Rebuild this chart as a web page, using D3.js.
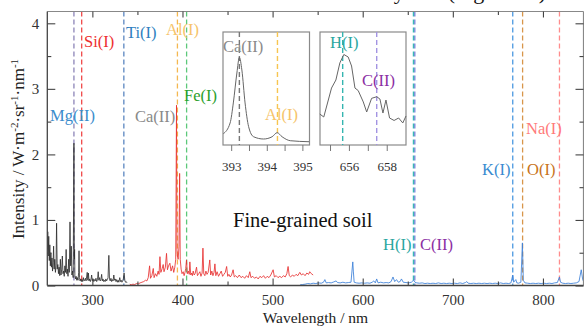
<!DOCTYPE html>
<html><head><meta charset="utf-8">
<script src="https://cdn.jsdelivr.net/npm/d3@7"></script>
<style>
body{margin:0;background:#fff}
svg{display:block}
</style>
</head><body>
<svg id="c" width="584" height="327" font-family="'Liberation Serif', 'DejaVu Serif', serif"></svg>
<script>
// ---------------- DATA ----------------
const xMajorTicks = [300, 400, 500, 600, 700, 800];
const xMinorTicks = [350, 450, 550, 650, 750];
const yMajorTicks = [0, 1, 2, 3, 4];
const yMinorTicks = [0.5, 1.5, 2.5, 3.5];

// spectrometer 1 (black), 250-340 nm
const blackSpectrum = [
[250.0,0.55],[250.5,0.82],[251.0,0.45],[251.6,0.75],[252.2,0.38],[252.8,0.62],[253.4,0.30],[254.0,0.50],
[254.6,0.28],[255.2,0.42],[255.8,0.22],[256.5,0.35],[257.0,0.60],[257.6,0.25],[258.3,0.40],[259.0,0.20],
[259.7,0.30],[260.3,0.95],[261.0,0.25],[261.7,0.32],[262.4,0.18],[263.1,0.28],[263.8,0.15],[264.5,0.40],
[265.2,0.16],[266.0,0.25],[266.7,0.45],[267.4,0.18],[268.1,0.22],[268.8,0.14],[269.5,0.30],[270.2,0.20],
[270.9,0.55],[271.6,0.18],[272.3,0.25],[273.0,0.14],[273.7,0.40],[274.4,0.20],[275.2,0.97],[275.9,0.30],
[276.6,0.60],[277.3,0.16],[278.0,0.22],[278.7,0.12],[279.55,2.17],[280.0,0.40],[280.3,0.55],[280.6,0.15],
[281.3,0.10],[282.0,0.14],[282.7,0.08],[283.4,0.12],[284.1,0.08],[284.8,0.20],[285.2,0.53],[285.7,0.12],
[286.4,0.07],[287.1,0.10],[287.8,0.06],[288.5,0.09],[289.2,0.06],[290.0,0.12],[290.7,0.07],[291.5,0.08],
[292.3,0.11],[293.0,0.07],[294.3,0.20],[295.0,0.08],[295.6,0.19],[296.3,0.07],[297.1,0.10],[297.8,0.06],
[298.5,0.09],[299.2,0.16],[300.0,0.07],[300.8,0.10],[301.6,0.06],[302.4,0.09],[303.2,0.07],[304.0,0.11],
[304.8,0.06],[305.7,0.09],[306.5,0.21],[307.2,0.08],[308.0,0.12],[308.7,0.07],[309.5,0.09],[310.3,0.17],
[311.0,0.07],[311.8,0.10],[312.6,0.06],[313.4,0.08],[314.2,0.06],[315.0,0.10],[315.8,0.07],[316.6,0.09],
[317.4,0.12],[318.3,0.46],[319.0,0.10],[319.8,0.07],[320.6,0.11],[321.4,0.06],[322.2,0.09],[323.0,0.07],
[323.8,0.16],[324.6,0.08],[325.4,0.10],[326.2,0.06],[327.0,0.09],[327.8,0.05],[328.6,0.08],[329.4,0.05],
[330.4,0.12],[331.2,0.06],[332.0,0.08],[332.8,0.05],[333.6,0.07],[334.4,0.10],[335.2,0.19],[336.0,0.08],
[336.8,0.05],[337.6,0.06],[338.4,0.04]
];

// spectrometer 2 (red), 341-545 nm
const redSpectrum = [
[341.5,0.02],[343,0.01],[345,0.02],[347,0.015],[349,0.03],[351,0.025],[353,0.04],[355,0.05],[357,0.06],
[359,0.08],[360.5,0.07],[362,0.12],[363.5,0.30],[364.5,0.11],[366,0.15],[367.6,0.26],[368.5,0.12],[370,0.18],
[371.5,0.14],[373,0.22],[374,0.17],[375,0.44],[376,0.20],[377.5,0.26],[378.6,0.32],[379.5,0.21],[381,0.28],
[382.3,0.49],[383.3,0.24],[384.5,0.30],[386,0.34],[387.3,0.22],[389,0.30],[390.3,0.20],[391.5,0.28],
[392.5,0.40],[393.37,2.75],[393.9,0.55],[394.4,0.45],[395.2,0.40],[396.15,0.60],[396.85,1.71],[397.5,0.40],
[398.5,0.25],[399.5,0.18],[400.8,0.21],[401.8,0.15],[402.8,0.20],[403.6,0.26],[404.5,0.39],[405.4,0.18],
[406.5,0.22],[407.5,0.17],[408.2,0.36],[409.2,0.16],[410.2,0.19],[411.0,0.15],[411.9,0.22],[413.0,0.16],
[414.0,0.18],[415.6,0.28],[416.6,0.15],[418.0,0.18],[419.3,0.21],[420.5,0.14],[421.8,0.19],[422.7,0.57],
[423.6,0.18],[424.8,0.15],[426.0,0.22],[427.2,0.17],[428.5,0.20],[430.3,0.39],[431.3,0.16],[432.6,0.22],
[433.8,0.15],[435.0,0.20],[436.0,0.33],[437.0,0.15],[438.4,0.21],[440.0,0.14],[441.5,0.18],[443.0,0.22],
[444.5,0.14],[446.0,0.17],[447.5,0.20],[449.0,0.29],[450.2,0.14],[451.5,0.17],[453.0,0.13],[454.5,0.16],
[456.2,0.24],[457.5,0.13],[459.0,0.15],[461.0,0.12],[463.0,0.16],[465.0,0.12],[467.0,0.14],[469.0,0.11],
[471.0,0.15],[473.0,0.12],[474.7,0.21],[476.0,0.12],[478.0,0.14],[480.0,0.11],[482.0,0.13],[484.0,0.10],
[486.0,0.14],[488.0,0.12],[490.0,0.15],[492.0,0.11],[494.0,0.14],[496.0,0.12],[498.0,0.16],[500.6,0.24],
[502.0,0.13],[504.0,0.15],[506.0,0.12],[508.0,0.14],[510.0,0.12],[512.0,0.15],[514.0,0.13],[515.8,0.18],
[517.2,0.29],[518.5,0.15],[520.0,0.13],[522.0,0.16],[524.0,0.14],[526.0,0.17],[528.0,0.15],[530.2,0.20],
[532.0,0.16],[534.0,0.18],[536.0,0.15],[538.0,0.19],[540.0,0.17],[541.2,0.21],[543.0,0.18],[545.0,0.16]
];

// spectrometer 3 (blue), 530-845 nm
const blueSpectrum = [
[530.5,0.01],[533,0.015],[536,0.02],[539,0.03],[542,0.025],[545,0.035],[548,0.03],[551,0.04],[554,0.035],
[556.5,0.05],[558,0.09],[559.5,0.04],[562,0.045],[565,0.04],[568,0.055],[570.5,0.07],[572,0.045],[575,0.04],
[578,0.05],[581,0.04],[584,0.045],[587,0.05],[588.99,0.36],[589.6,0.22],[590.5,0.05],[593,0.04],[596,0.035],
[599,0.04],[602,0.035],[605,0.04],[608,0.035],[610.5,0.05],[612.3,0.07],[614,0.04],[615.5,0.10],[617,0.04],
[620,0.05],[623,0.04],[626,0.045],[629,0.04],[631.5,0.06],[633.6,0.13],[635.5,0.06],[637.5,0.09],[639.5,0.05],
[641.5,0.06],[643,0.10],[645,0.05],[648,0.045],[651,0.04],[654,0.05],[656.3,0.08],[658,0.05],[660,0.04],
[663,0.035],[666,0.04],[669,0.03],[672,0.035],[675,0.03],[678,0.035],[681,0.03],[684,0.04],[687,0.03],
[690,0.035],[693,0.03],[696,0.035],[699,0.03],[702,0.035],[705,0.03],[708,0.04],[711,0.03],[714,0.045],
[715.5,0.06],[717,0.035],[720,0.03],[723,0.035],[726,0.03],[729,0.035],[732,0.03],[735,0.035],[738,0.03],
[741,0.035],[744,0.03],[747,0.035],[750,0.03],[753,0.04],[756,0.03],[759,0.035],[762,0.03],[764.5,0.04],
[766.5,0.16],[767.5,0.05],[769.9,0.09],[771,0.04],[773,0.035],[775.5,0.05],[777.2,0.65],[778.2,0.08],
[780,0.04],[783,0.035],[786,0.03],[789,0.035],[792,0.03],[795,0.035],[798,0.03],[801,0.035],[804,0.03],
[807,0.035],[810,0.03],[813,0.04],[816,0.045],[818.3,0.13],[819.5,0.05],[822,0.035],[825,0.03],[828,0.035],
[831,0.03],[834,0.035],[837,0.04],[840,0.06],[842.5,0.24],[844,0.10],[845,0.06]
];

// emission line markers
const markerNames = ["Mg(II)","Si(I)","Ti(I)","Al(I)","Fe(I)","H(I)","C(II)","K(I)","O(I)","Na(I)"];
const markerWl    = [279.55, 288.16, 334.94, 394.40, 404.58, 656.28, 657.80, 766.49, 777.42, 818.33];
const extraLabels = ["Ca(II)"];

// inset 1 : Ca(II) / Al(I) region
const inset1Ticks = [393, 393.5, 394, 394.5, 395];
const inset1Labels = [393, 394, 395];
const inset1Spectrum = [
[392.78,0.10],[392.97,0.195],[393.06,0.372],[393.16,0.637],[393.23,0.776],[393.30,0.664],[393.39,0.372],
[393.49,0.162],[393.63,0.073],[393.91,0.053],[394.15,0.073],[394.29,0.109],[394.43,0.073],[394.66,0.038],[395.19,0.029]
];
const inset1Lines = [["Ca(II)",393.23],["Al(I)",394.30]];

// inset 2 : H(I) / C(II) region
const inset2Ticks = [655, 656, 657, 658];
const inset2Labels = [656, 658];
const inset2Spectrum = [
[654.46,0.274],[654.67,0.248],[655.08,0.504],[655.31,0.575],[655.52,0.726],[655.73,0.801],[655.96,0.779],
[656.14,0.699],[656.32,0.504],[656.49,0.482],[656.76,0.381],[656.94,0.292],[657.20,0.413],[657.47,0.427],
[657.64,0.407],[657.80,0.283],[657.96,0.398],[658.15,0.239],[658.39,0.217],[658.63,0.239],[658.85,0.195],[659.02,0.257]
];
const inset2Lines = [["H(I)",655.67],["C(II)",657.47]];

const sampleName = "Fine-grained soil";
const titleText = "dry soil (Figure 3a)";

// ---------------- STYLE / LAYOUT ----------------
const FONT = "'Liberation Serif', 'DejaVu Serif', serif";
const lineColor = {"Mg(II)":"#8c84b8","Si(I)":"#f04848","Ti(I)":"#5a86c0","Al(I)":"#f4b850","Fe(I)":"#5cc87a",
  "H(I)":"#3ab8b4","C(II)":"#6f7fd6","K(I)":"#4a98e0","O(I)":"#d8964a","Na(I)":"#ff8c8c","Ca(II)":"#777"};
const labelColor = {"Mg(II)":"#3c8dcc","Si(I)":"#ee3030","Ti(I)":"#2f7fc0","Al(I)":"#f6c46a","Fe(I)":"#2ca02c",
  "Ca(II)":"#8a8a8a","H(I)":"#2aa6a0","C(II)":"#8b2ea3","K(I)":"#3a8bd0","O(I)":"#c87420","Na(I)":"#ff7a7a"};
const labelPos = {"Mg(II)":[50,121],"Si(I)":[84,47],"Ti(I)":[126,38],"Al(I)":[166,35],"Ca(II)":[135,122],
  "Fe(I)":[184,101],"H(I)":[383,250],"C(II)":[420,250],"K(I)":[482,175],"O(I)":[527,175],"Na(I)":[526,134]};
const inset1LabelPos = {"Ca(II)":[223,52],"Al(I)":[265,120]};
const inset2LabelPos = {"H(I)":[330,48],"C(II)":[362,86]};
const inset1LineColor = {"Ca(II)":"#777","Al(I)":"#f7c550"};
const inset2LineColor = {"H(I)":"#35b5b0","C(II)":"#a394e2"};

const L = 47.3, R = 583.5, T = 11.5, B = 285.5;
const svg = d3.select("#c");
const x = d3.scaleLinear().domain([250, 845]).range([L, R]);
const y = d3.scaleLinear().domain([0, 4.18]).range([B, T]);

svg.append("defs").append("clipPath").attr("id","plotclip")
  .append("rect").attr("x",L).attr("y",T).attr("width",R-L).attr("height",B-T);

function txt(sel){ return sel.attr("font-family",FONT); }

// title (mostly cut off at the top, as in the source figure)
txt(svg.append("text")).attr("x",546).attr("y",-1).attr("text-anchor","end")
  .attr("font-size",22).attr("fill","#111").text(titleText);

// marker dashed lines
const mg = svg.append("g").attr("clip-path","url(#plotclip)");
markerNames.forEach((n,i)=>{
  mg.append("line").attr("x1",x(markerWl[i])).attr("x2",x(markerWl[i]))
    .attr("y1",T).attr("y2",B).attr("stroke",lineColor[n]).attr("stroke-width",1.3)
    .attr("stroke-dasharray","5,3");
});

// spectra
const line = d3.line().x(d=>x(d[0])).y(d=>y(d[1]));
const sg = svg.append("g").attr("clip-path","url(#plotclip)").attr("fill","none");
sg.append("path").datum(blackSpectrum).attr("d",line).attr("stroke","#2a2a2a").attr("stroke-opacity",0.8).attr("stroke-width",1);
sg.append("path").datum(redSpectrum).attr("d",line).attr("stroke","#e83232").attr("stroke-opacity",0.85).attr("stroke-width",1);
sg.append("path").datum(blueSpectrum).attr("d",line).attr("stroke","#3c80d8").attr("stroke-opacity",0.85).attr("stroke-width",1);

// frame
svg.append("line").attr("x1",L).attr("x2",R).attr("y1",T).attr("y2",T).attr("stroke","#888").attr("stroke-width",1.2);
svg.append("line").attr("x1",R).attr("x2",R).attr("y1",T).attr("y2",B).attr("stroke","#888").attr("stroke-width",1.2);
svg.append("line").attr("x1",L).attr("x2",L).attr("y1",T).attr("y2",B).attr("stroke","#444").attr("stroke-width",1.3);
svg.append("line").attr("x1",L).attr("x2",R).attr("y1",B).attr("y2",B).attr("stroke","#444").attr("stroke-width",1.3);

function styleAxis(g){
  g.select(".domain").remove();
  g.selectAll(".tick line").attr("stroke","#444").attr("stroke-width",1.1);
  g.attr("font-family",FONT).attr("font-size",15);
  g.selectAll(".tick text").attr("font-size",15).attr("fill","#333").attr("font-family",FONT);
}
// axes
svg.append("g").attr("transform",`translate(0,${B})`)
  .call(d3.axisBottom(x).tickValues(xMajorTicks).tickSize(-7).tickPadding(9).tickFormat(d3.format("d")))
  .call(styleAxis);
svg.append("g").attr("transform",`translate(0,${B})`)
  .call(d3.axisBottom(x).tickValues(xMinorTicks).tickSize(-4).tickFormat(""))
  .call(styleAxis);
svg.append("g").attr("transform",`translate(0,${T})`)
  .call(d3.axisTop(x).tickValues(xMajorTicks).tickSize(-6).tickFormat(""))
  .call(styleAxis);
svg.append("g").attr("transform",`translate(0,${T})`)
  .call(d3.axisTop(x).tickValues(xMinorTicks).tickSize(-3.5).tickFormat(""))
  .call(styleAxis);
svg.append("g").attr("transform",`translate(${L},0)`)
  .call(d3.axisLeft(y).tickValues(yMajorTicks).tickSize(-8).tickPadding(8).tickFormat(d3.format("d")))
  .call(styleAxis);
svg.append("g").attr("transform",`translate(${L},0)`)
  .call(d3.axisLeft(y).tickValues(yMinorTicks).tickSize(-4).tickFormat(""))
  .call(styleAxis);
svg.append("g").attr("transform",`translate(${R},0)`)
  .call(d3.axisRight(y).tickValues(yMajorTicks).tickSize(-8).tickFormat(""))
  .call(styleAxis);
svg.append("g").attr("transform",`translate(${R},0)`)
  .call(d3.axisRight(y).tickValues(yMinorTicks).tickSize(-4).tickFormat(""))
  .call(styleAxis);

// axis titles
txt(svg.append("text")).attr("x",(L+R)/2).attr("y",322.5).attr("text-anchor","middle")
  .attr("font-size",15.5).attr("fill","#222").text("Wavelength / nm");
const yt = txt(svg.append("text")).attr("transform","translate(24,149) rotate(-90)")
  .attr("text-anchor","middle").attr("font-size",17).attr("fill","#222");
yt.append("tspan").text("Intensity / W·m");
yt.append("tspan").attr("font-size",11).attr("dy",-6).text("-2");
yt.append("tspan").attr("dy",6).text("·sr");
yt.append("tspan").attr("font-size",11).attr("dy",-6).text("-1");
yt.append("tspan").attr("dy",6).text("·nm");
yt.append("tspan").attr("font-size",11).attr("dy",-6).text("-1");

// element labels
markerNames.concat(extraLabels).forEach(n=>{
  const p = labelPos[n];
  txt(svg.append("text")).attr("x",p[0]).attr("y",p[1]).attr("font-size",16.5)
    .attr("fill",labelColor[n]).text(n);
});

txt(svg.append("text")).attr("x",233).attr("y",226.5).attr("font-size",20.5).attr("fill","#111").text(sampleName);

// insets
function drawInset(x0,x1,domain,ticks,labels,data,lines,lineCol,labPos,curve){
  const iy0 = 32, iy1 = 145;
  const ix = d3.scaleLinear().domain(domain).range([x0,x1]);
  const iy = d3.scaleLinear().domain([0,1]).range([iy1,iy0]);
  const g = svg.append("g");
  g.append("rect").attr("x",x0).attr("y",iy0).attr("width",x1-x0).attr("height",iy1-iy0)
    .attr("fill","#fff").attr("stroke","#8a8a8a").attr("stroke-width",1.2);
  lines.forEach(l=>{
    g.append("line").attr("x1",ix(l[1])).attr("x2",ix(l[1])).attr("y1",iy0).attr("y2",iy1)
      .attr("stroke",lineCol[l[0]]).attr("stroke-width",1.4).attr("stroke-dasharray","5,3");
  });
  g.append("path").datum(data)
    .attr("d",d3.line().x(d=>ix(d[0])).y(d=>iy(d[1])).curve(curve))
    .attr("fill","none").attr("stroke","#666").attr("stroke-width",1);
  const ax = g.append("g").attr("transform",`translate(0,${iy1})`)
    .call(d3.axisBottom(ix).tickValues(ticks).tickSize(6).tickFormat(d=>labels.includes(d)?d3.format("d")(d):"").tickPadding(11));
  ax.select(".domain").remove();
  ax.attr("font-family",FONT).attr("font-size",13);
  ax.selectAll(".tick line").attr("stroke","#777");
  ax.selectAll(".tick text").attr("font-size",13).attr("fill","#333").attr("font-family",FONT);
  lines.forEach(l=>{
    const p = labPos[l[0]];
    txt(g.append("text")).attr("x",p[0]).attr("y",p[1]).attr("font-size",16.5)
      .attr("fill",labelColor[l[0]]).text(l[0]);
  });
}
drawInset(223,309.5,[392.77,395.2],inset1Ticks,inset1Labels,inset1Spectrum,inset1Lines,inset1LineColor,inset1LabelPos,d3.curveMonotoneX);
drawInset(320,406,[654.47,659.02],inset2Ticks,inset2Labels,inset2Spectrum,inset2Lines,inset2LineColor,inset2LabelPos,d3.curveLinear);
</script>
</body></html>
